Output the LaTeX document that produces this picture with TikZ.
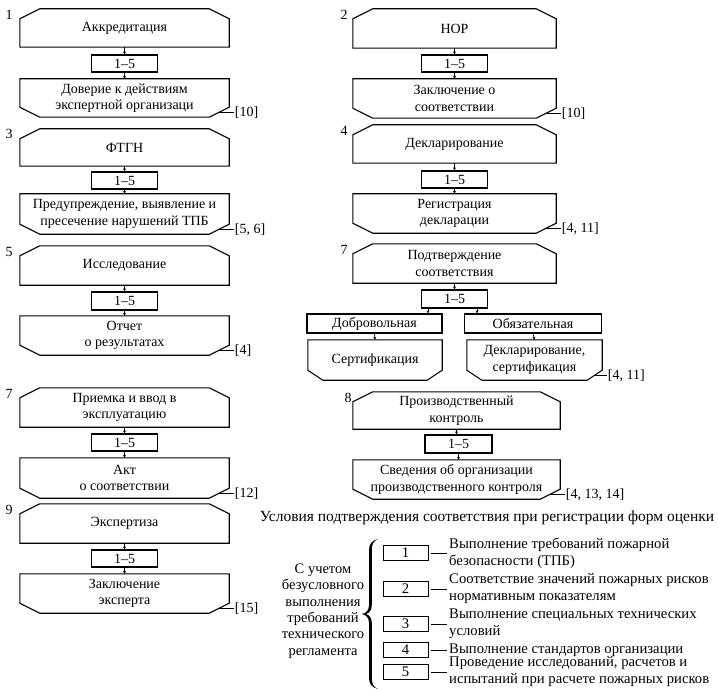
\documentclass[tikz,border=0pt]{standalone}
\usepackage{fontspec}
\setmainfont{Liberation Serif}
\usetikzlibrary{calc,arrows.meta}
\newcommand\topfr[2][20pt]{%
  \draw[shp] (#2.south west) -- ([yshift=-10pt]#2.north west) -- ([xshift=#1]#2.north west)
    -- ([xshift=-#1]#2.north east) -- ([yshift=-10pt]#2.north east) -- (#2.south east) -- cycle;}
\newcommand\botfr[2][20pt]{%
  \draw[shp] (#2.north west) -- ([yshift=10pt]#2.south west) -- ([xshift=#1]#2.south west)
    -- ([xshift=-#1]#2.south east) -- ([yshift=10pt]#2.south east) -- (#2.north east) -- cycle;}
\newcommand\reflab[4][10]{%
  \coordinate (#3c) at ($(#2.south east)+(-#1,-4.5)$);
  \node[lab,anchor=west] (#3) at ($(#2.south east)+(5,-4.5)$) {#4};
  \draw[thinln] (#3c) -- (#3.west);}
\begin{document}
\begin{tikzpicture}[x=1pt,y=-1pt,
  txt/.style={font=\fontsize{14}{16.5}\selectfont},
  ltxt/.style={font=\fontsize{14.7}{17}\selectfont},
  tb/.style={txt,minimum width=209pt,minimum height=38pt,align=center,inner sep=0pt},
  tbr/.style={tb,minimum width=203pt},
  sb/.style={txt,draw,line width=1.1pt,minimum width=66pt,minimum height=17pt,inner sep=0pt},
  shp/.style={line width=1.1pt},
  thinln/.style={line width=1pt},
  lab/.style={txt,inner sep=0.5pt},
  num/.style={txt,inner sep=0pt},
  arr/.style={-{Stealth[length=3pt,width=3pt]},line width=0.7pt},
  lbox/.style={ltxt,draw,line width=1pt,minimum width=45pt,minimum height=15pt,inner sep=0pt},
  ltx/.style={ltxt,anchor=west,align=left,inner sep=0pt}]
\useasboundingbox (0,0) rectangle (718,690);
% ---------- left column ----------
\node[tb] (t1) at (124.5,28) {Аккредитация};
\node[sb] (s1) at (124.5,63.5) {1–5};
\node[tb] (b1) at (124.5,98) {Доверие к действиям\\экспертной организаци};
\node[tb,minimum height=37pt] (t3) at (124.5,147.5) {ФТГН};
\node[sb] (s3) at (124.5,180.5) {1–5};
\node[tb,minimum height=40pt] (b3) at (124.5,214) {Предупреждение, выявление и\\пресечение нарушений ТПБ};
\node[tb,minimum height=39pt] (t5) at (124.5,265.5) {Исследование};
\node[sb,minimum height=18pt] (s5) at (124.5,301) {1–5};
\node[tb,minimum height=39pt] (b5) at (124.5,335.5) {Отчет\\о результатах};
\node[tb,minimum height=39pt] (t7) at (124.5,407.5) {Приемка и ввод в\\эксплуатацию};
\node[sb] (s7) at (124.5,442.5) {1–5};
\node[tb,minimum height=40pt] (b7) at (124.5,478) {Акт\\о соответствии};
\node[tb,minimum height=39pt] (t9) at (124.5,523.5) {Экспертиза};
\node[sb] (s9) at (124.5,558.5) {1–5};
\node[tb,minimum height=39pt] (b9) at (124.5,593.5) {Заключение\\эксперта};
% ---------- right column ----------
\node[tbr,minimum height=39pt] (t2) at (454.5,28.5) {НОР};
\node[sb] (s2) at (454.5,63.5) {1–5};
\node[tbr,minimum height=39pt] (b2) at (454.5,98.5) {Заключение о\\соответствии};
\node[tbr] (t4) at (454.5,144) {Декларирование};
\node[sb] (s4) at (454.5,179.5) {1–5};
\node[tbr,minimum height=39pt] (b4) at (454.5,213.5) {Регистрация\\декларации};
\node[tbr,minimum height=39pt] (t7r) at (454.5,263.5) {Подтверждение\\соответствия};
\node[sb,minimum height=18pt] (s7r) at (454.5,299) {1–5};
\node[sb,minimum width=135pt,minimum height=19pt] (dobr) at (374.5,323.5) {Добровольная};
\node[sb,minimum width=137pt,minimum height=19pt] (obya) at (533,323.5) {Обязательная};
\node[tb,minimum width=134pt,minimum height=40pt] (sert) at (375,360) {Сертификация};
\node[tb,minimum width=135pt,minimum height=40pt] (decl) at (534.5,360) {Декларирование,\\сертификация};
\node[tb,minimum width=207pt,minimum height=37pt] (t8) at (456.5,410.5) {Производственный\\контроль};
\node[sb,minimum width=67pt,minimum height=18pt] (s8) at (458.5,444) {1–5};
\node[tb,minimum width=207pt,minimum height=39pt] (b8) at (456.5,479.5) {Сведения об организации\\производственного контроля};
% ---------- outlines ----------
\foreach \n in {t1,t3,t5,t7,t9,t2,t4,t7r,t8} {\topfr{\n}}
\foreach \n in {b1,b3,b5,b7,b9,b2,b4,b8} {\botfr{\n}}
\botfr[15pt]{sert}
\botfr[15pt]{decl}
% ---------- connectors ----------
\foreach \a/\b in {t1/s1,s1/b1,t3/s3,s3/b3,t5/s5,s5/b5,t7/s7,s7/b7,t9/s9,s9/b9,
  t2/s2,s2/b2,t4/s4,s4/b4,t7r/s7r,dobr/sert,obya/decl} {\draw[arr] (\a.south) -- (\b.north);}
\draw[arr] (t8.south) -- (t8.south |- s8.north);
\draw[arr] (s8.south) -- (s8.south |- b8.north);
\coordinate (s7ra) at ($(s7r.south)+(-26.5,0)$);
\coordinate (s7rb) at ($(s7r.south)+(22.5,0)$);
\draw[arr] (s7ra) -- (s7ra |- dobr.north);
\draw[arr] (s7rb) -- (s7rb |- obya.north);
% ---------- reference labels ----------
\reflab{b1}{r1}{[10]}
\reflab{b3}{r3}{[5, 6]}
\reflab{b5}{r5}{[4]}
\reflab{b7}{r7}{[12]}
\reflab{b9}{r9}{[15]}
\reflab{b2}{r2}{[10]}
\reflab{b4}{r4}{[4, 11]}
\reflab[7.5]{decl}{rd}{[4, 11]}
\reflab{b8}{r8}{[4, 13, 14]}
% ---------- block numbers ----------
\node[num] (n1) at (9,15) {1};
\node[num] (n3) at (9,134) {3};
\node[num] (n5) at (9,252) {5};
\node[num] (n7) at (9,394) {7};
\node[num] (n9) at (9,510) {9};
\node[num] (n2) at (344,15) {2};
\node[num] (n4) at (344,131) {4};
\node[num] (n7r) at (344,250) {7};
\node[num] (n8) at (348,398) {8};
% ---------- legend ----------
\node[inner sep=0pt,font=\fontsize{15.5}{18}\selectfont] (title) at (487,518) {Условия подтверждения соответствия при регистрации форм оценки};
\node[align=center,inner sep=0pt,font=\fontsize{14.5}{16.4}\selectfont] (cond) at (323,611) {С учетом\\безусловного\\выполнения\\требований\\технического\\регламента};
% curly brace
\fill (378,539) .. controls (372,540.5) and (369,544) .. (369,550) -- (369,605)
  .. controls (369,610) and (366.5,613) .. (362,614)
  .. controls (366.5,615) and (369,618) .. (369,623) -- (369,678)
  .. controls (369,684) and (372,687.5) .. (378,689)
  .. controls (373.5,687) and (371.8,684) .. (371.8,678) -- (371.8,623)
  .. controls (371.8,618) and (369.5,615) .. (366,614)
  .. controls (369.5,613) and (371.8,610) .. (371.8,605) -- (371.8,550)
  .. controls (371.8,544) and (373.5,541) .. (378,539) -- cycle;
\node[lbox] (L1) at (405.5,553) {1};
\node[lbox] (L2) at (405.5,589) {2};
\node[lbox] (L3) at (405.5,624) {3};
\node[lbox] (L4) at (405.5,650) {4};
\node[lbox] (L5) at (405.5,672) {5};
\node[ltx] (T1) at (449,553) {Выполнение требований пожарной\\безопасности (ТПБ)};
\node[ltx] (T2) at (449,589) {Соответствие значений пожарных рисков\\нормативным показателям};
\node[ltx] (T3) at (449,624) {Выполнение специальных технических\\условий};
\node[ltx] (T4) at (449,650) {Выполнение стандартов организации};
\node[ltx] (T5) at (449,672) {Проведение исследований, расчетов и\\испытаний при расчете пожарных рисков};
\foreach \i in {1,...,5} {\draw[thinln] ([xshift=2pt]L\i.east) -- ([xshift=-2pt]T\i.west);}
\end{tikzpicture}
\end{document}
